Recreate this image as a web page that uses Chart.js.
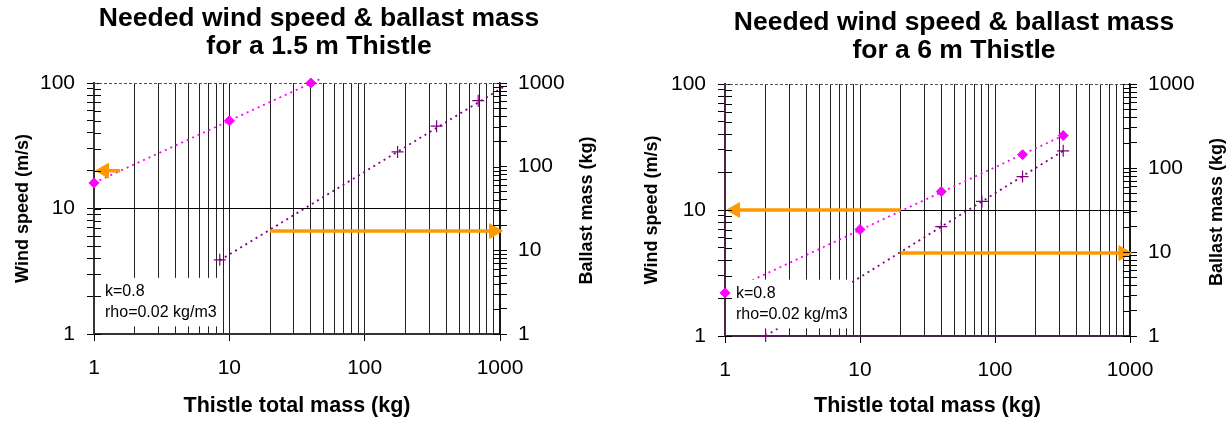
<!DOCTYPE html>
<html>
<head>
<meta charset="utf-8">
<script src="https://cdn.jsdelivr.net/npm/chart.js@4.4.1/dist/chart.umd.min.js"></script>
<style>
  html, body { margin: 0; padding: 0; background: #fff; overflow: hidden; }
  #wrap { position: relative; width: 1232px; height: 423px; }
  #c1 { position: absolute; left: 0; top: 0; }
  #c2 { position: absolute; left: 600px; top: 0; }
</style>
</head>
<body>
<div id="wrap">
  <canvas id="c1" width="638" height="423"></canvas>
  <canvas id="c2" width="708" height="423"></canvas>
</div>
<script>
// tick values of the log axes
const massTicks = [1, 2, 3, 4, 5, 6, 7, 8, 9, 10, 20, 30, 40, 50, 60, 70, 80, 90,
                   100, 200, 300, 400, 500, 600, 700, 800, 900, 1000];
const windTicks = [1, 2, 3, 4, 5, 6, 7, 8, 9, 10, 20, 30, 40, 50, 60, 70, 80, 90, 100];
const ballastTicks = massTicks;
const tickLabels = [1, 10, 100, 1000];

// 1.5 m Thistle
const mass15Wind = [1, 10, 40];
const wind15 = [16, 50, 100];
const mass15Ballast = [8.5, 175, 340, 690];
const ballast15 = [7.7, 150, 305, 615];
const trendMass15Wind = [1, 49];
const trendWind15 = [16, 110];
const trendMass15Ballast = [8.5, 1120];
const trendBallast15 = [7.6, 945];
const arrowMass15Wind = [1.56, 1.19];
const arrowWind15 = [20, 20];
const arrowMass15Ballast = [20, 900];
const arrowBallast15 = [17, 17];

// 6 m Thistle
const mass6Wind = [1, 10, 40, 160, 320];
const wind6 = [2.2, 7, 14, 27.5, 39];
const mass6Ballast = [2, 40, 80, 160, 320];
const ballast6 = [1, 20, 40, 79, 160];
const trendMass6Wind = [1, 320];
const trendWind6 = [2.2, 39];
const trendMass6Ballast = [2, 320];
const trendBallast6 = [1, 160];
const arrowMass6Wind = [20, 1.19];
const arrowWind6 = [10, 10];
const arrowMass6Ballast = [20, 890];
const arrowBallast6 = [9.7, 9.7];

const noteLines = ['k=0.8', 'rho=0.02 kg/m3'];

const MAGENTA = '#ff00ff';
const PURPLE = '#800080';
const ORANGE = '#ff9900';
const FONT = '"Liberation Sans", Arial, Helvetica, sans-serif';

Chart.defaults.font.family = FONT;
Chart.defaults.color = '#000';

function pts(xs, ys) {
    return xs.map((x, i) => ({ x: x, y: ys[i] }));
}

// white note box, inner axis ticks, dashed top edge, upward right axis title
const decor = {
    id: 'decor',
    afterDatasetDraw(chart, args, opts) {
        if (!chart.data.datasets[args.index].boxAfter) return;
        const ctx = chart.ctx;
        const x = chart.scales.x, y = chart.scales.y;
        const l = chart.chartArea.left + opts.boxInset;
        const r = x.getPixelForValue(opts.box.x1);
        const t = y.getPixelForValue(opts.box.y1);
        const b = y.getPixelForValue(opts.box.y0);
        ctx.save();
        ctx.fillStyle = '#fff';
        ctx.fillRect(l, t, r - l, b - t);
        ctx.fillStyle = '#000';
        ctx.font = '16px ' + FONT;
        ctx.textBaseline = 'middle';
        noteLines.forEach((s, i) => ctx.fillText(s, chart.chartArea.left + 11, t + 14 + i * 21));
        ctx.restore();
    },
    afterDraw(chart, args, opts) {
        const ctx = chart.ctx;
        const area = chart.chartArea;
        ctx.save();
        ctx.strokeStyle = '#000';
        ctx.lineWidth = 1;
        [['y', 1], ['y2', -1]].forEach(([id, dir]) => {
            const s = chart.scales[id];
            const ax = id === 'y' ? area.left : area.right;
            s.ticks.forEach(t => {
                const py = Math.round(s.getPixelForValue(t.value)) + 0.5;
                ctx.beginPath();
                ctx.moveTo(ax, py);
                ctx.lineTo(ax + dir * 7, py);
                ctx.stroke();
            });
        });
        // dashed top edge
        ctx.strokeStyle = '#555';
        ctx.setLineDash([3, 2]);
        ctx.beginPath();
        ctx.moveTo(area.left, area.top + 0.5);
        ctx.lineTo(area.right, area.top + 0.5);
        ctx.stroke();
        ctx.setLineDash([]);
        // right axis title, reading upwards
        ctx.translate(opts.rightTitleX, (area.top + area.bottom) / 2 + 2);
        ctx.rotate(-Math.PI / 2);
        ctx.font = 'bold 18px ' + FONT;
        ctx.textAlign = 'center';
        ctx.textBaseline = 'middle';
        ctx.fillText('Ballast mass (kg)', 0, 0);
        ctx.restore();
    }
};

function logAxis(ticks, extra) {
    return Object.assign({
        type: 'logarithmic',
        min: ticks[0],
        max: ticks[ticks.length - 1],
        afterBuildTicks: s => { s.ticks = ticks.map(v => ({ value: v })); },
        ticks: {
            autoSkip: false,
            maxRotation: 0,
            font: { size: 21 },
            callback: v => tickLabels.includes(v) ? String(v) : ''
        }
    }, extra);
}

function makeChart(id, c) {
    return new Chart(document.getElementById(id), {
        type: 'scatter',
        data: {
            datasets: [
                { data: c.trendWind, yAxisID: 'y', showLine: true, borderColor: MAGENTA, borderWidth: 1.8,
                  borderDash: [2, 4], pointRadius: 0, order: 6, clip: { left: 0, top: 7, right: 7, bottom: 0 } },
                { data: c.trendBallast, yAxisID: 'y2', showLine: true, borderColor: PURPLE, borderWidth: 1.8,
                  borderDash: [2, 4], pointRadius: 0, order: 5, boxAfter: true,
                  clip: { left: 0, top: 7, right: 7, bottom: 0 } },
                { data: c.wind, yAxisID: 'y', pointStyle: 'rectRot', pointRadius: 5,
                  backgroundColor: MAGENTA, borderColor: MAGENTA, borderWidth: 1, order: 4, clip: 8 },
                { data: c.ballast, yAxisID: 'y2', pointStyle: 'cross', pointRadius: 6,
                  borderColor: PURPLE, borderWidth: 1.2, order: 3, clip: 8 },
                { data: c.arrowWind, yAxisID: 'y', showLine: true, borderColor: ORANGE, borderWidth: 3.5,
                  pointStyle: 'triangle', pointRadius: [0, 8.5], pointRotation: -90,
                  pointBackgroundColor: ORANGE, pointBorderColor: ORANGE, pointBorderWidth: 1, order: 2, clip: 8 },
                { data: c.arrowBallast, yAxisID: 'y2', showLine: true, borderColor: ORANGE, borderWidth: 3.5,
                  pointStyle: 'triangle', pointRadius: [0, 8.5], pointRotation: 90,
                  pointBackgroundColor: ORANGE, pointBorderColor: ORANGE, pointBorderWidth: 1, order: 1, clip: 8 }
            ]
        },
        options: {
            responsive: false,
            animation: false,
            events: [],
            layout: { padding: 0 },
            plugins: {
                legend: { display: false },
                tooltip: { enabled: false },
                title: {
                    display: true,
                    text: c.title,
                    font: { size: 26.5, weight: 'bold', lineHeight: 1.07 },
                    padding: { top: c.titleTop, bottom: c.titleBottom }
                },
                decor: { box: { x1: 8.5, y0: 1.15, y1: 2.8 }, boxInset: c.boxInset, rightTitleX: c.rightTitleX }
            },
            scales: {
                x: logAxis(massTicks, {
                    position: 'bottom',
                    afterFit: s => { s.height = c.xHeight; },
                    grid: {
                        color: '#222', lineWidth: 1, tickLength: 7,
                        tickColor: ctx => tickLabels.includes(ctx.tick.value) ? '#000' : 'rgba(0,0,0,0)'
                    },
                    border: { color: c.bottomBorder, width: 2 },
                    title: { display: true, text: 'Thistle total mass (kg)', font: { size: 21.5, weight: 'bold' },
                             padding: { top: 0, bottom: 4 } }
                }),
                y: logAxis(windTicks, {
                    position: 'left',
                    afterFit: s => { s.width = c.yWidth; },
                    grid: {
                        color: ctx => ctx.tick && ctx.tick.value === 10 ? '#000' : 'rgba(0,0,0,0)',
                        tickColor: '#000', tickLength: 7
                    },
                    border: { color: c.leftBorder, width: 2 },
                    title: { display: true, text: 'Wind speed (m/s)', font: { size: 18, weight: 'bold' },
                             padding: { top: c.yTitlePad, bottom: 0 } }
                }),
                y2: logAxis(ballastTicks, {
                    position: 'right',
                    afterFit: s => { s.width = c.y2Width; },
                    grid: { drawOnChartArea: false, tickColor: '#000', tickLength: 7 },
                    border: { color: '#111', width: 1.5 },
                    ticks: {
                        autoSkip: false, maxRotation: 0, padding: 11, font: { size: 21 },
                        callback: v => tickLabels.includes(v) ? String(v) : ''
                    }
                })
            }
        },
        plugins: [decor]
    });
}

// label offsets
function fixPadding(chart) {
    chart.options.scales.x.ticks.padding = 15;
    chart.options.scales.y.ticks.padding = 12;
    chart.update();
}

const chart1 = makeChart('c1', {
    title: ['Needed wind speed & ballast mass', 'for a 1.5 m Thistle'],
    titleTop: 4.3, titleBottom: 22,
    trendWind: pts(trendMass15Wind, trendWind15),
    trendBallast: pts(trendMass15Ballast, trendBallast15),
    wind: pts(mass15Wind, wind15),
    ballast: pts(mass15Ballast, ballast15),
    arrowWind: pts(arrowMass15Wind, arrowWind15),
    arrowBallast: pts(arrowMass15Ballast, arrowBallast15),
    xHeight: 89, yWidth: 94, y2Width: 138, yTitlePad: 12,
    boxInset: 1, rightTitleX: 587.5, leftBorder: '#333', bottomBorder: '#333'
});

const chart2 = makeChart('c2', {
    title: ['Needed wind speed & ballast mass', 'for a 6 m Thistle'],
    titleTop: 8.3, titleBottom: 19,
    trendWind: pts(trendMass6Wind, trendWind6),
    trendBallast: pts(trendMass6Ballast, trendBallast6),
    wind: pts(mass6Wind, wind6),
    ballast: pts(mass6Ballast, ballast6),
    arrowWind: pts(arrowMass6Wind, arrowWind6),
    arrowBallast: pts(arrowMass6Ballast, arrowBallast6),
    xHeight: 87, yWidth: 125, y2Width: 178, yTitlePad: 41,
    boxInset: 4, rightTitleX: 617, leftBorder: '#4a234a', bottomBorder: '#4a234a'
});

fixPadding(chart1);
fixPadding(chart2);
</script>
</body>
</html>
